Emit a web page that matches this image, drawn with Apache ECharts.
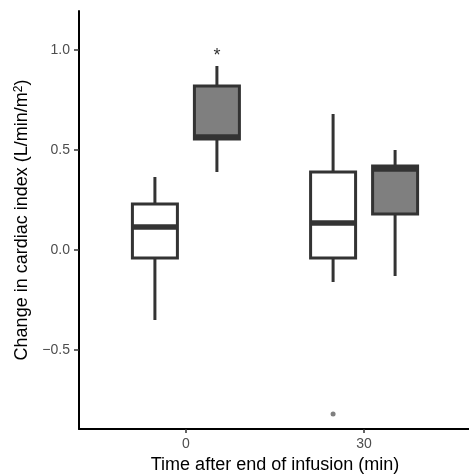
<!DOCTYPE html>
<html>
<head>
<meta charset="utf-8">
<title>Change in cardiac index</title>
<script src="https://cdn.jsdelivr.net/npm/echarts@6/dist/echarts.min.js"></script>
<style>
  html, body { margin: 0; padding: 0; background: #fff; }
  #chart { width: 469px; height: 475px; }
</style>
</head>
<body>
<div id="chart"></div>
<script>
// Datos
const times = [0, 30];
const yTicks = [-0.5, 0, 0.5, 1.0];

// [min, q1, mediana, q3, max] por tiempo
const controlStats = [
  [-0.35, -0.04, 0.115, 0.23, 0.365],
  [-0.16, -0.04, 0.135, 0.39, 0.68],
];
const infusionStats = [
  [0.39, 0.555, 0.565, 0.82, 0.92],
  [-0.13, 0.18, 0.405, 0.42, 0.5],
];

// puntos atipicos [tiempo, valor]
const controlOutliers = [[30, -0.82]];

// marca de significancia [tiempo, valor, texto]
const infusionMarks = [[0, 0.97, "*"]];

// Estilos
const DARK = "#333333";
const GRAY_FILL = "#7f7f7f";
const DODGE = 31;
const HALF_W = 22.5;

const chart = echarts.init(document.getElementById("chart"));

// caja de ggplot: bigotes, caja y mediana
const boxRenderer = (offset, fill) => (params, api) => {
  const cx = api.coord([api.value(0), 0])[0] + offset;
  const y = (i) => api.coord([0, api.value(i)])[1];
  const yMin = y(1), yQ1 = y(2), yMed = y(3), yQ3 = y(4), yMax = y(5);
  const line = { stroke: DARK, lineWidth: 3 };
  return {
    type: "group",
    children: [
      { type: "line", shape: { x1: cx, y1: yMax, x2: cx, y2: yQ3 }, style: line },
      { type: "line", shape: { x1: cx, y1: yQ1, x2: cx, y2: yMin }, style: line },
      {
        type: "rect",
        shape: { x: cx - HALF_W, y: yQ3, width: HALF_W * 2, height: yQ1 - yQ3 },
        style: { fill: fill, stroke: DARK, lineWidth: 3 },
      },
      {
        type: "line",
        shape: { x1: cx - HALF_W, y1: yMed, x2: cx + HALF_W, y2: yMed },
        style: { stroke: DARK, lineWidth: 5.5 },
      },
    ],
  };
};

const toBoxData = (stats) => stats.map((s, i) => [times[i], ...s]);

const option = {
  animation: false,
  grid: { left: 79, top: 11, bottom: 46, width: 392, outerBoundsMode: "none" },
  xAxis: {
    type: "value",
    min: -18,
    max: 48,
    name: "Time after end of infusion (min)",
    nameLocation: "middle",
    nameGap: 23,
    nameTextStyle: { fontFamily: "Liberation Sans", fontSize: 18, color: "#000" },
    axisLine: { onZero: false, lineStyle: { color: "#000", width: 2 } },
    axisTick: { customValues: times, length: 4, lineStyle: { color: DARK, width: 1.5 } },
    axisLabel: {
      customValues: times,
      margin: 8,
      fontFamily: "Liberation Sans",
      fontSize: 14,
      color: "#4d4d4d",
    },
    splitLine: { show: false },
  },
  yAxis: {
    type: "value",
    min: -0.895,
    max: 1.195,
    name: "Change in cardiac index (L/min/m{sup|2})",
    nameLocation: "middle",
    nameGap: 44,
    nameTextStyle: {
      fontFamily: "Liberation Sans",
      fontSize: 18,
      color: "#000",
      rich: {
        sup: { fontFamily: "Liberation Sans", fontSize: 12, color: "#000", verticalAlign: "top", padding: [0, 0, 8, 0] },
      },
    },
    axisLine: { show: true, onZero: false, lineStyle: { color: "#000", width: 2 } },
    axisTick: { show: true, customValues: yTicks, length: 5, lineStyle: { color: DARK, width: 1.5 } },
    axisLabel: {
      customValues: yTicks,
      margin: 9,
      fontFamily: "Liberation Sans",
      fontSize: 14,
      color: "#4d4d4d",
      formatter: (v) => v.toFixed(1).replace("-", "\u2212"),
    },
    splitLine: { show: false },
  },
  series: [
    {
      name: "Control",
      type: "custom",
      renderItem: boxRenderer(-DODGE, "#ffffff"),
      data: toBoxData(controlStats),
      z: 2,
    },
    {
      name: "Infusion",
      type: "custom",
      renderItem: boxRenderer(DODGE, GRAY_FILL),
      data: toBoxData(infusionStats),
      z: 2,
    },
    {
      name: "Control outliers",
      type: "custom",
      renderItem: (params, api) => {
        const p = api.coord([api.value(0), api.value(1)]);
        return {
          type: "circle",
          shape: { cx: p[0] - DODGE, cy: p[1], r: 2.5 },
          style: { fill: GRAY_FILL },
        };
      },
      data: controlOutliers,
      z: 3,
    },
    {
      name: "Significance",
      type: "custom",
      renderItem: (params, api) => {
        const p = api.coord([api.value(0), api.value(1)]);
        return {
          type: "text",
          x: p[0] + DODGE,
          y: p[1],
          style: {
            text: infusionMarks[params.dataIndex][2],
            fontFamily: "Liberation Sans",
            fontSize: 18,
            fill: DARK,
            align: "center",
            verticalAlign: "middle",
          },
        };
      },
      data: infusionMarks.map((m) => [m[0], m[1]]),
      z: 3,
    },
  ],
};

chart.setOption(option);
</script>
</body>
</html>
